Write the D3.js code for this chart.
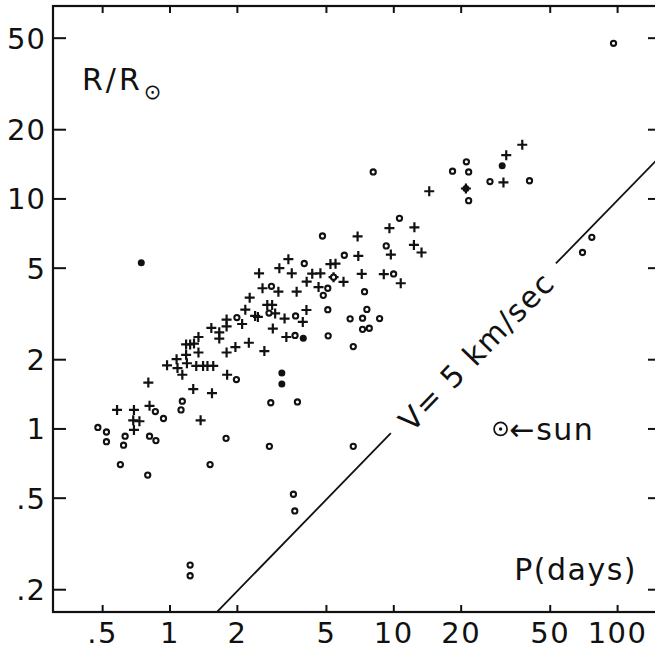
<!DOCTYPE html>
<html>
<head>
<meta charset="utf-8">
<script src="https://cdnjs.cloudflare.com/ajax/libs/d3/7.8.5/d3.min.js"></script>
<style>
  body { margin: 0; background: #fff; }
  text { font-family: "DejaVu Sans", sans-serif; fill: #111; }
</style>
</head>
<body>
<script>
// rotation period P (days) against radius R/Rsun
var crossP = [0.58, 0.69, 0.685, 0.73, 0.69, 0.81, 1.37, 0.80, 0.97, 1.07, 1.08, 1.135, 1.18, 1.19,
  1.18, 1.23, 1.28, 1.34, 1.34, 1.31, 1.405, 1.47, 1.56, 1.27, 1.54, 1.53, 1.66, 1.66, 1.79, 1.79,
  2.10, 2.17, 2.40, 2.72, 2.86, 2.95, 2.88, 1.79, 1.96, 2.25, 2.64, 1.80, 2.50, 3.38, 3.08, 3.50,
  6.94, 6.89, 12.3, 13.3, 9.70, 5.21, 5.49, 4.32, 4.70, 4.08, 5.96, 4.61, 7.19, 9.02, 10.74, 2.59,
  3.05, 3.68, 2.27, 2.47, 3.25, 4.07, 3.92, 3.31, 14.4, 21.0, 30.9, 31.8, 37.5, 9.56, 12.36, 5.38];
var crossR = [1.21, 1.21, 1.09, 1.08, 0.99, 1.26, 1.09, 1.59, 1.89, 2.01, 1.84, 1.72, 2.10, 1.93,
  2.33, 2.33, 2.35, 2.51, 2.15, 1.88, 1.88, 1.88, 1.88, 1.49, 1.43, 2.75, 2.63, 2.47, 2.99, 2.79,
  2.86, 3.30, 3.10, 3.46, 3.46, 3.18, 2.73, 2.15, 2.27, 2.37, 2.18, 1.72, 4.75, 5.47, 5.00, 4.75,
  5.65, 6.87, 6.31, 5.85, 5.73, 5.21, 5.23, 4.73, 4.75, 4.37, 4.36, 4.14, 4.72, 4.71, 4.30, 4.09,
  3.95, 3.95, 3.72, 3.07, 3.02, 3.29, 2.92, 2.51, 10.8, 11.1, 11.8, 15.5, 17.2, 7.46, 7.53, 4.57];

var ringP = [0.476, 0.52, 0.52, 0.63, 0.62, 0.60, 0.86, 0.935, 0.81, 0.865, 0.795, 1.12, 1.135, 1.51,
  1.23, 1.23, 1.78, 2.78, 1.99, 2.77, 1.98, 2.82, 3.71, 3.56, 3.61, 3.98, 6.01, 9.25, 4.80, 5.38,
  5.07, 4.84, 9.98, 7.40, 2.84, 3.64, 3.62, 5.07, 5.09, 6.38, 7.25, 7.58, 8.64, 7.25, 7.77, 6.59,
  6.59, 8.09, 18.3, 21.1, 21.6, 21.6, 26.9, 40.4, 10.6, 76.7, 69.7, 95.9];
var ringR = [1.015, 0.97, 0.88, 0.93, 0.85, 0.70, 1.19, 1.11, 0.93, 0.89, 0.63, 1.21, 1.32, 0.70,
  0.256, 0.23, 0.91, 0.84, 3.05, 3.19, 1.64, 1.30, 1.31, 0.52, 0.44, 5.24, 5.69, 6.25, 6.90, 4.57,
  4.09, 3.81, 4.72, 3.95, 4.17, 3.10, 2.55, 3.30, 2.54, 3.01, 3.03, 3.31, 3.02, 2.71, 2.74, 2.28,
  0.84, 13.1, 13.2, 14.5, 13.1, 9.83, 11.9, 12.0, 8.24, 6.81, 5.85, 47.5];

var dotP = [0.744, 3.16, 3.16, 3.94, 30.5, 21.0];
var dotR = [5.28, 1.75, 1.57, 2.48, 13.95, 11.1];

var sunP = 30, sunR = 1;

// V = 5 km/sec line, broken where its label sits
var vLineP = [1.6, 9.7, 53, 150];
var vLineR = [0.158, 0.958, 5.24, 14.8];

var xTicks = [0.5, 1, 2, 5, 10, 20, 50, 100];
var xTickLabels = [".5", "1", "2", "5", "10", "20", "50", "100"];
var yTicks = [0.2, 0.5, 1, 2, 5, 10, 20, 50];
var yTickLabels = [".2", ".5", "1", "2", "5", "10", "20", "50"];

var w = 655, h = 657;
var frameL = 53, frameR = 657, frameT = 6, frameB = 612;

var x = d3.scaleLog().domain([0.3, 150]).range([frameL, frameR]);
var y = d3.scaleLog().domain([0.16, 69]).range([frameB, frameT]);

var svg = d3.select("body").append("svg")
  .attr("width", w)
  .attr("height", h);

svg.append("clipPath").attr("id", "frame")
  .append("rect")
  .attr("x", frameL).attr("y", frameT)
  .attr("width", frameR - frameL).attr("height", frameB - frameT);

// frame
svg.append("rect")
  .attr("x", frameL).attr("y", frameT)
  .attr("width", frameR - frameL).attr("height", frameB - frameT)
  .attr("fill", "none")
  .attr("stroke", "#111")
  .attr("stroke-width", 2.2);

// ticks, all pointing inward
var ticks = svg.append("g").attr("stroke", "#111").attr("stroke-width", 2);
ticks.selectAll(".yl").data(yTicks).enter().append("line")
  .attr("x1", frameL).attr("x2", frameL + 13)
  .attr("y1", function(d){ return y(d); })
  .attr("y2", function(d){ return y(d); });
ticks.selectAll(".yr").data(yTicks).enter().append("line")
  .attr("x1", frameR - 9).attr("x2", frameR)
  .attr("y1", function(d){ return y(d); })
  .attr("y2", function(d){ return y(d); });
ticks.selectAll(".xb").data(xTicks).enter().append("line")
  .attr("x1", function(d){ return x(d); })
  .attr("x2", function(d){ return x(d); })
  .attr("y1", frameB).attr("y2", frameB - 7);
ticks.selectAll(".xt").data(xTicks).enter().append("line")
  .attr("x1", function(d){ return x(d); })
  .attr("x2", function(d){ return x(d); })
  .attr("y1", frameT).attr("y2", frameT + 7);

// tick labels
svg.selectAll(".ylab").data(yTicks).enter().append("text")
  .attr("class", "ylab")
  .attr("x", 46)
  .attr("y", function(d){ return y(d); })
  .attr("dy", "0.36em")
  .attr("text-anchor", "end")
  .style("font-size", "29px")
  .style("letter-spacing", "1px")
  .text(function(d, i){ return yTickLabels[i]; });

svg.selectAll(".xlab").data(xTicks).enter().append("text")
  .attr("class", "xlab")
  .attr("x", function(d){ return x(d); })
  .attr("y", 643)
  .attr("text-anchor", "middle")
  .style("font-size", "29px")
  .style("letter-spacing", "1.5px")
  .text(function(d, i){ return xTickLabels[i]; });

// velocity line
var plot = svg.append("g").attr("clip-path", "url(#frame)");
[[0, 1], [2, 3]].forEach(function(s){
  plot.append("line")
    .attr("x1", x(vLineP[s[0]])).attr("y1", y(vLineR[s[0]]))
    .attr("x2", x(vLineP[s[1]])).attr("y2", y(vLineR[s[1]]))
    .attr("stroke", "#111")
    .attr("stroke-width", 1.8);
});

var ax = x(vLineP[1]), ay = y(vLineR[1]), bx = x(vLineP[2]), by = y(vLineR[2]);
var ang = Math.atan2(by - ay, bx - ax) * 180 / Math.PI;
svg.append("text")
  .attr("transform", "translate(" + ((ax + bx) / 2 + 3) + "," + ((ay + by) / 2 + 3) + ") rotate(" + ang + ")")
  .attr("text-anchor", "middle")
  .attr("dy", "0.36em")
  .style("font-size", "30px")
  .style("letter-spacing", "1.5px")
  .text("V= 5 km/sec");

// crosses
plot.selectAll(".cross").data(d3.range(crossP.length)).enter().append("path")
  .attr("class", "cross")
  .attr("transform", function(i){ return "translate(" + x(crossP[i]) + "," + y(crossR[i]) + ")"; })
  .attr("d", "M-5,0H5M0,-5V5")
  .attr("stroke", "#111")
  .attr("stroke-width", 2.2);

// open circles
plot.selectAll(".ring").data(d3.range(ringP.length)).enter().append("circle")
  .attr("class", "ring")
  .attr("cx", function(i){ return x(ringP[i]); })
  .attr("cy", function(i){ return y(ringR[i]); })
  .attr("r", 2.6)
  .attr("fill", "#fff")
  .attr("stroke", "#111")
  .attr("stroke-width", 2.1);

// filled dots
plot.selectAll(".dot").data(d3.range(dotP.length)).enter().append("circle")
  .attr("class", "dot")
  .attr("cx", function(i){ return x(dotP[i]); })
  .attr("cy", function(i){ return y(dotR[i]); })
  .attr("r", 3.5)
  .attr("fill", "#111");

// the sun
svg.append("circle")
  .attr("cx", x(sunP)).attr("cy", y(sunR)).attr("r", 6.5)
  .attr("fill", "none").attr("stroke", "#111").attr("stroke-width", 1.7);
svg.append("circle")
  .attr("cx", x(sunP)).attr("cy", y(sunR)).attr("r", 1.7)
  .attr("fill", "#111");
svg.append("text")
  .attr("x", x(sunP) + 9).attr("y", y(sunR))
  .attr("dy", "0.36em")
  .style("font-size", "30px")
  .style("letter-spacing", "1.5px")
  .text("←sun");

// axis titles
var rt = svg.append("text")
  .attr("x", 82).attr("y", 90)
  .style("font-size", "30px")
  .style("letter-spacing", "3px");
rt.append("tspan").text("R/R");
rt.append("tspan").attr("dx", 1).attr("dy", 9).style("font-size", "21px").style("letter-spacing", "0px").text("⊙");

svg.append("text")
  .attr("x", 637).attr("y", 580)
  .attr("text-anchor", "end")
  .style("font-size", "30px")
  .style("letter-spacing", "1.5px")
  .text("P(days)");
</script>
</body>
</html>
